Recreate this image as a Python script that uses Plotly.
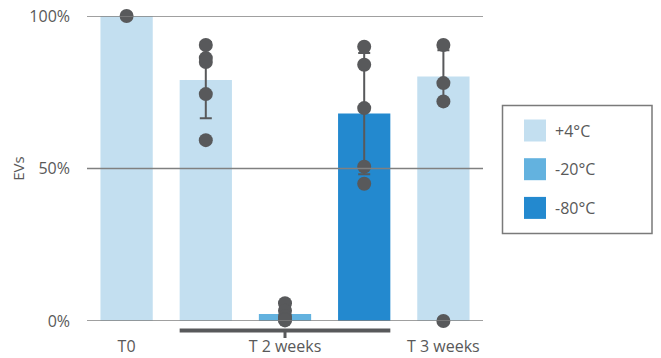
import plotly.graph_objects as go

# ---------------- data ----------------
positions = [0, 1, 2, 3, 4]
bar_series = ["+4°C", "+4°C", "-20°C", "-80°C", "+4°C"]
bar_means = [100.0, 79.0, 2.3, 68.0, 80.2]
bar_sd = [None, 12.5, 2.2, 19.9, 8.6]
points = [
    [100.0],
    [90.5, 86.2, 84.9, 74.4, 59.3],
    [5.8, 3.4, 1.5, 0.6, 0.2],
    [89.9, 84.0, 69.8, 50.6, 45.0],
    [90.5, 78.0, 72.0, 0.0],
]
tick_positions = [0, 2, 4]
tick_labels = ["T0", "T 2 weeks", "T 3 weeks"]
y_ticks = [0, 50, 100]
y_tick_labels = ["0%", "50%", "100%"]
series_names = ["+4°C", "-20°C", "-80°C"]
series_colors = ["#c3dff0", "#63b2df", "#2389cf"]
bracket_span = [1, 3]  # categories grouped under "T 2 weeks"

# ---------------- style ----------------
FONT = "Open Sans"
TXT = "#595959"
DOT = "#58595b"
GRID = "#808080"
PAGE_W, PAGE_H = 661, 358
OFF = 8  # default page body margin around the plot div
W, H = PAGE_W - OFF, PAGE_H - OFF
# plot area in page pixels
PX0, PX1, PY0, PY1 = 87, 483, 16, 321
L, T = PX0 - OFF, PY0 - OFF
R, B = W - (PX1 - OFF), H - (PY1 - OFF)
BAR_W = 0.66

fig = go.Figure()
for name, color in zip(series_names, series_colors):
    xs = [p for p, s in zip(positions, bar_series) if s == name]
    ys = [m for m, s in zip(bar_means, bar_series) if s == name]
    es = [e for e, s in zip(bar_sd, bar_series) if s == name]
    fig.add_trace(go.Bar(
        x=xs, y=ys, name=name, width=BAR_W, marker=dict(color=color, line=dict(width=0)),
        error_y=dict(type="data", array=[e if e is not None else 0 for e in es],
                     visible=True, color=DOT, thickness=2, width=6),
        showlegend=False,
    ))

dx, dy = [], []
for p, vals in zip(positions, points):
    for v in vals:
        dx.append(p)
        dy.append(v)
fig.add_trace(go.Scatter(x=dx, y=dy, mode="markers", cliponaxis=False, showlegend=False,
                         marker=dict(color=DOT, size=14, line=dict(width=0))))

def px_x(px):
    return (px - PX0) / (PX1 - PX0)

def px_y(py):
    return (PY1 - py) / (PY1 - PY0)

# horizontal grid lines (drawn over the bars, as in the original)
for v in y_ticks:
    fig.add_shape(type="line", xref="paper", yref="y", x0=0, x1=1, y0=v, y1=v,
                  line=dict(color=GRID, width=1.5), layer="above")

# bracket under "T 2 weeks"
fig.add_shape(type="line", xref="x", yref="paper",
              x0=bracket_span[0] - BAR_W / 2, x1=bracket_span[1] + BAR_W / 2,
              y0=px_y(330.5), y1=px_y(330.5), line=dict(color=DOT, width=4))
fig.add_shape(type="line", xref="x", yref="paper",
              x0=sum(bracket_span) / 2, x1=sum(bracket_span) / 2,
              y0=px_y(331), y1=px_y(338), line=dict(color=DOT, width=3))

# legend box (manual)
fig.add_shape(type="rect", xref="paper", yref="paper",
              x0=px_x(502.5), x1=px_x(652), y0=px_y(105.5), y1=px_y(233.5),
              line=dict(color="#7a7a7a", width=1.5), fillcolor="white")
for i, (name, color) in enumerate(zip(series_names, series_colors)):
    cy = 130.5 + i * 38.7
    fig.add_shape(type="rect", xref="paper", yref="paper",
                  x0=px_x(524), x1=px_x(546), y0=px_y(cy - 11), y1=px_y(cy + 11),
                  line=dict(width=0), fillcolor=color)
    fig.add_annotation(xref="paper", yref="paper", x=px_x(553), y=px_y(cy),
                       text=name, showarrow=False, xanchor="left", yanchor="middle",
                       font=dict(family=FONT, size=16, color=TXT))

fig.update_layout(
    width=W, height=H, margin=dict(l=L, r=R, t=T, b=B, autoexpand=False),
    paper_bgcolor="white", plot_bgcolor="white", barmode="overlay",
    font=dict(family=FONT, size=16, color=TXT),
    xaxis=dict(range=[-0.5, 4.5], tickvals=tick_positions, ticktext=tick_labels,
               showgrid=False, zeroline=False, showline=False, ticks="",
               automargin=False, ticklabeloverflow="allow",
               ticklabelstandoff=14, tickfont=dict(size=16, color=TXT)),
    yaxis=dict(range=[0, 100], tickvals=y_ticks, ticktext=y_tick_labels,
               showgrid=False, zeroline=False, automargin=False,
               ticklabeloverflow="allow",
               showline=False, ticks="", ticklabelstandoff=16,
               tickfont=dict(size=16, color=TXT),
               title=dict(text="EVs", standoff=6, font=dict(size=15, color=TXT))),
)

fig.write_html("out.html")
